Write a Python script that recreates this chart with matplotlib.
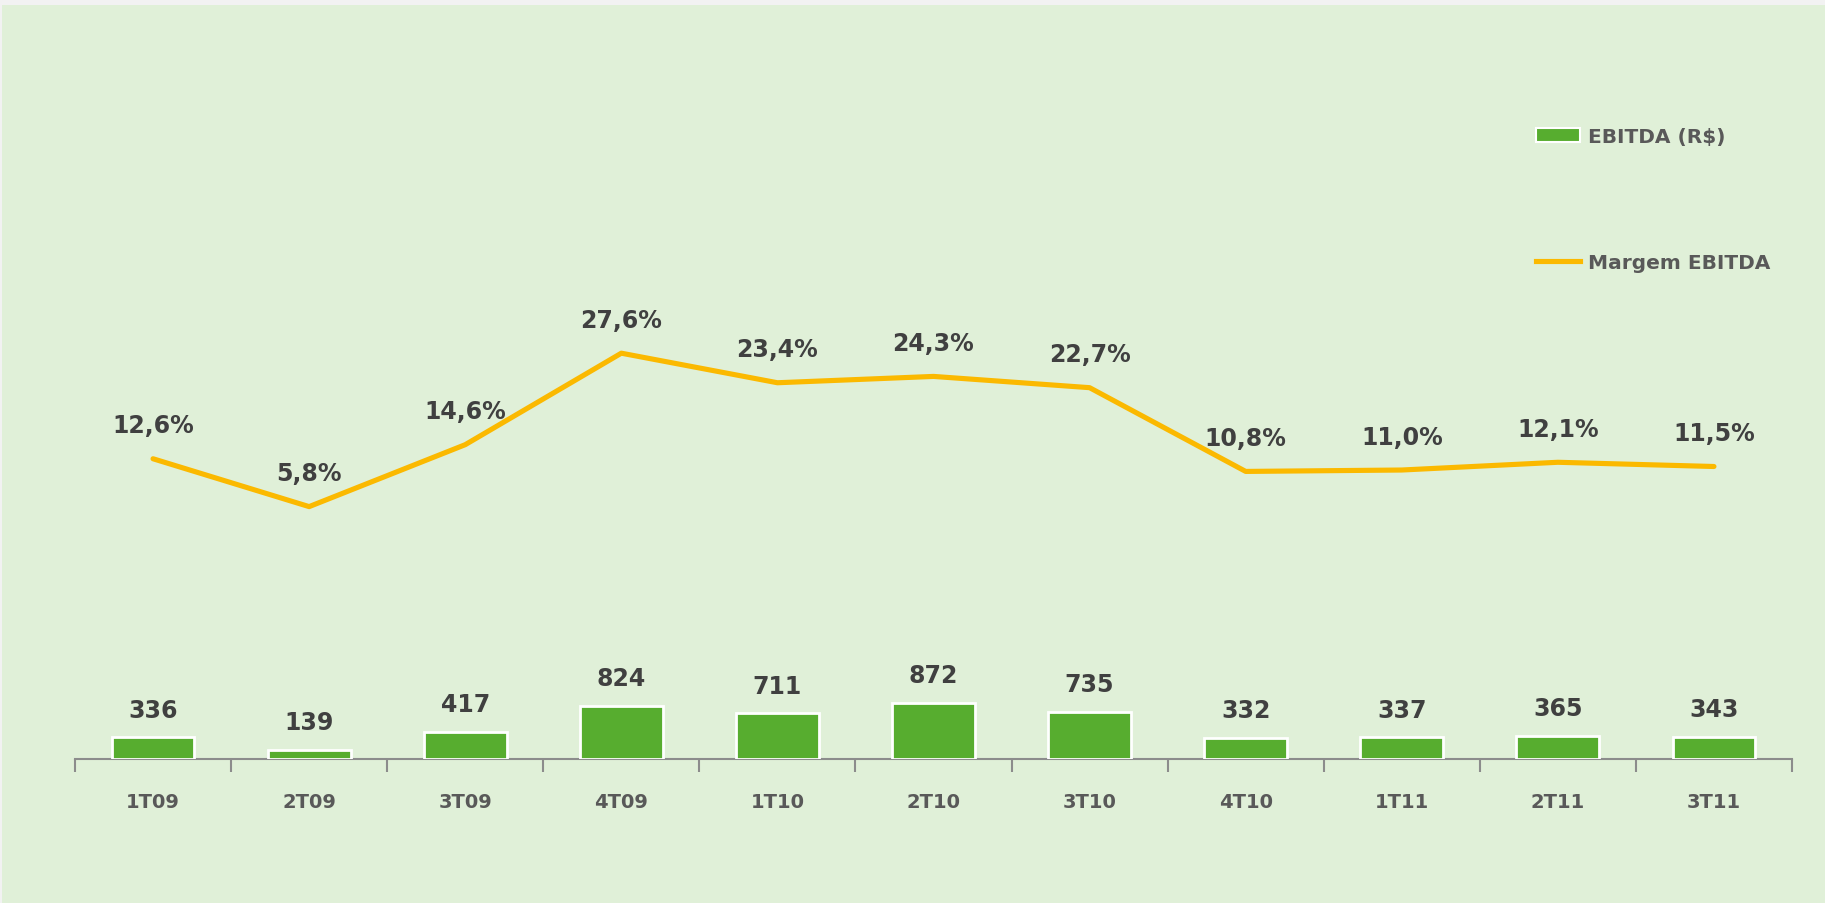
import matplotlib
matplotlib.use("Agg")
import matplotlib.pyplot as plt
from matplotlib.patches import Rectangle
from matplotlib.lines import Line2D
from matplotlib.patches import Patch
import numpy as np

categories = ["1T09", "2T09", "3T09", "4T09", "1T10", "2T10", "3T10", "4T10", "1T11", "2T11", "3T11"]
ebitda = [336, 139, 417, 824, 711, 872, 735, 332, 337, 365, 343]
margem = [12.6, 5.8, 14.6, 27.6, 23.4, 24.3, 22.7, 10.8, 11.0, 12.1, 11.5]

BG = "#E0F0D8"
GREEN = "#57AD2F"
GOLD = "#FBB900"
TXT = "#404040"
CAT = "#595959"

fig = plt.figure(figsize=(18.25, 9.04), dpi=100)
fig.patch.set_facecolor(BG)
# light gray strips at top and left edge
fig.add_artist(Rectangle((0, 1 - 6 / 904), 1, 6 / 904, transform=fig.transFigure,
                         facecolor="#F2F2F2", edgecolor="none"))
fig.add_artist(Rectangle((0, 0), 2 / 1825, 1, transform=fig.transFigure,
                         facecolor="#F2F2F2", edgecolor="none"))

left = 75 / 1825
right = 1792 / 1825
bottom = 144 / 904
height = 700 / 904
ax = fig.add_axes([left, bottom, right - left, height])
ax.set_facecolor("none")
ax2 = ax.twinx()
ax2.set_facecolor("none")

x = np.arange(len(categories))
bars = ax.bar(x, ebitda, width=0.53, color=GREEN, edgecolor="white", linewidth=2, zorder=3)
ax.set_xlim(-0.5, len(categories) - 0.5)
ax.set_ylim(0, 10900)

for xi, v in zip(x, ebitda):
    ax.annotate(f"{v}", (xi, v), xytext=(0, 20), textcoords="offset points",
                ha="center", va="center", fontsize=17, fontweight="bold", color=TXT)

ax2.plot(x, margem, color=GOLD, linewidth=3.7, solid_capstyle="round", zorder=4)
ax2.set_ylim(-30.06, 69.4)
for xi, v in zip(x, margem):
    ax2.annotate(f"{v:.1f}%".replace(".", ","), (xi, v), xytext=(0, 24), textcoords="offset points",
                 ha="center", va="center", fontsize=17, fontweight="bold", color=TXT)

for a in (ax, ax2):
    for s in ("top", "right", "left"):
        a.spines[s].set_visible(False)
    a.set_yticks([])
ax2.spines["bottom"].set_visible(False)
ax.spines["bottom"].set_color("#8C8C8C")
ax.spines["bottom"].set_linewidth(1.5)

ax.set_xticks(x)
ax.set_xticklabels(categories, fontsize=14, fontweight="bold", color=CAT)
ax.tick_params(axis="x", which="major", length=0, pad=24)
ax.set_xticks(np.arange(-0.5, len(categories), 1.0), minor=True)
ax.tick_params(axis="x", which="minor", length=9, width=1.5, color="#8C8C8C", direction="out")

handles = [Patch(facecolor=GREEN, edgecolor="white", linewidth=1.5),
           Line2D([0], [0], color=GOLD, linewidth=3.7)]
leg = fig.legend(handles, ["EBITDA (R$)", "Margem EBITDA"], loc="upper left",
                 bbox_to_anchor=(1518 / 1825, 1 - 110 / 904), frameon=False,
                 prop={"size": 14.5, "weight": "bold"}, labelcolor=CAT,
                 labelspacing=5.3, handlelength=2.2, handletextpad=0.4)

fig.savefig("out.png", dpi=100, facecolor=fig.get_facecolor())
